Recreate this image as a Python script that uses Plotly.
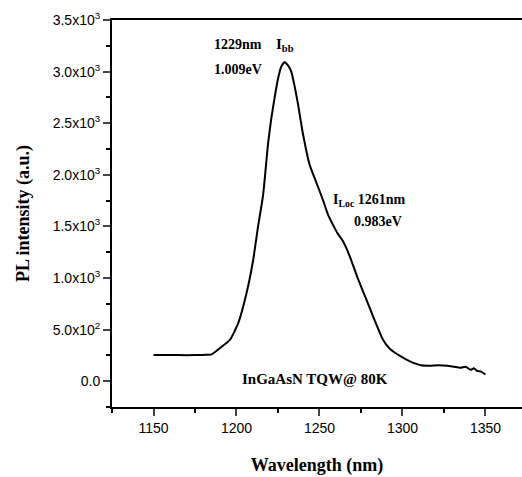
import plotly.graph_objects as go

wavelength = [1150, 1160, 1170, 1180, 1185, 1190, 1196, 1201, 1206, 1210, 1213, 1216, 1219,
              1221, 1223, 1225, 1227, 1229, 1231, 1233, 1235, 1237, 1240, 1244, 1248, 1252,
              1255, 1258, 1261, 1264, 1268, 1273, 1278, 1283, 1288, 1292, 1295, 1299, 1303,
              1307, 1311, 1316, 1322, 1327, 1331, 1335, 1338, 1341, 1343, 1345, 1347, 1350]
intensity = [255, 255, 252, 255, 260, 320, 400, 560, 850, 1170, 1500, 1800, 2300,
             2550, 2750, 2930, 3050, 3090, 3060, 3000, 2860, 2690, 2400, 2100, 1930, 1760,
             1620, 1520, 1430, 1360, 1220, 1000, 800, 600, 410, 320, 280, 240, 205,
             175, 155, 150, 155, 150, 140, 130, 140, 110, 125, 100, 95, 65]

x_ticks = [1150, 1200, 1250, 1300, 1350]
y_ticks = [0, 500, 1000, 1500, 2000, 2500, 3000, 3500]
y_ticklabels = ["0.0", "5.0x10<sup>2</sup>", "1.0x10<sup>3</sup>", "1.5x10<sup>3</sup>",
                "2.0x10<sup>3</sup>", "2.5x10<sup>3</sup>", "3.0x10<sup>3</sup>", "3.5x10<sup>3</sup>"]

serif = "Liberation Serif, Times New Roman, serif"
sans = "Liberation Sans, Arial, sans-serif"

fig = go.Figure()
fig.add_trace(go.Scatter(x=wavelength, y=intensity, mode="lines",
                         line=dict(color="black", width=2, shape="spline", smoothing=0.5),
                         showlegend=False))

ann_font = dict(family=serif, size=14, color="black")
anns = [
    dict(x=1185.4, y=3262, text="<b>1229nm</b>", xanchor="left", size=14),
    dict(x=1185.4, y=3020, text="<b>1.009eV</b>", xanchor="left", size=14),
    dict(x=1229, y=3262, text="<b>I<sub>bb</sub></b>", xanchor="center", size=15),
    dict(x=1257, y=1748, text="<b>I<sub>Loc</sub> 1261nm</b>", xanchor="left", size=14),
    dict(x=1269.8, y=1544, text="<b>0.983eV</b>", xanchor="left", size=14),
    dict(x=1247, y=20, text="<b>InGaAsN TQW@ 80K</b>", xanchor="center", size=15),
]
for a in anns:
    fig.add_annotation(x=a["x"], y=a["y"], text=a["text"], xanchor=a["xanchor"],
                       yanchor="middle", showarrow=False,
                       font=dict(family=serif, size=a["size"], color="black"))

fig.update_layout(
    width=522, height=477,
    margin=dict(l=112, r=0, t=20, b=70),
    paper_bgcolor="white", plot_bgcolor="white",
    xaxis=dict(range=[1125, 1372], tickvals=x_ticks, ticks="outside", ticklen=7, tickwidth=2,
               showline=True, linewidth=2, linecolor="black", mirror=True, showgrid=False,
               zeroline=False, tickfont=dict(family=sans, size=14, color="black"),
               minor=dict(ticks="outside", dtick=25, tick0=1150, ticklen=4, tickwidth=2,
                          tickcolor="black", showgrid=False),
               title=dict(text="<b>Wavelength (nm)</b>", font=dict(family=serif, size=18, color="black"),
                          standoff=24)),
    yaxis=dict(range=[-250, 3500], tickvals=y_ticks, ticktext=y_ticklabels, ticks="outside",
               ticklen=7, tickwidth=2, showline=True, linewidth=2, linecolor="black",
               showgrid=False, zeroline=False,
               tickfont=dict(family=sans, size=14, color="black"),
               minor=dict(ticks="outside", dtick=250, tick0=0, ticklen=4, tickwidth=2,
                          tickcolor="black", showgrid=False),
               title=dict(text="<b>PL intensity (a.u.)</b>", font=dict(family=serif, size=18, color="black"),
                          standoff=18)),
)

fig.write_html("out.html")
